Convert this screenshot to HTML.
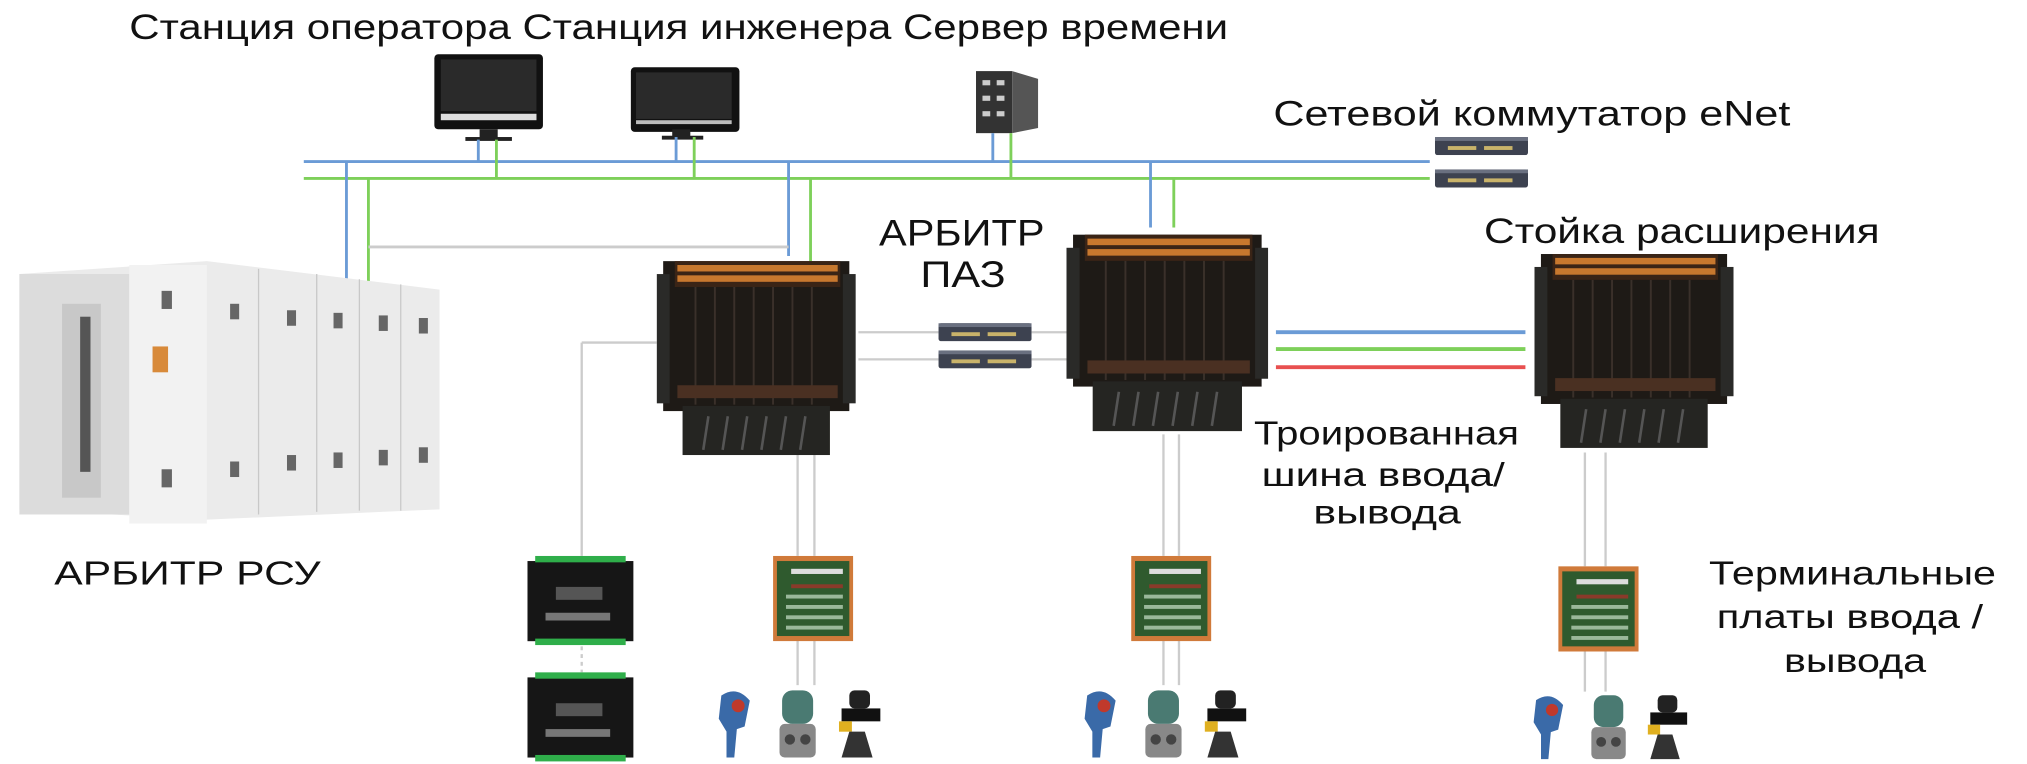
<!DOCTYPE html>
<html><head><meta charset="utf-8"><style>
html,body{margin:0;padding:0;background:#fff;width:2027px;height:764px;overflow:hidden}
svg{display:block}
text{font-family:"Liberation Sans",sans-serif;fill:#111}
</style></head><body>
<svg width="2027" height="764" viewBox="0 0 1568 591" preserveAspectRatio="none" xmlns="http://www.w3.org/2000/svg">
<defs>
<symbol id="rack" viewBox="0 0 154 155">
<rect x="5" y="4" width="144" height="116" fill="#1e1a16"/>
<rect x="0" y="14" width="10" height="100" fill="#2a2a28"/>
<rect x="144" y="14" width="10" height="100" fill="#2a2a28"/>
<rect x="14" y="4" width="128" height="20" fill="#3a2416"/>
<g fill="#c8782e">
<rect x="16" y="7" width="124" height="5"/><rect x="16" y="15" width="124" height="5"/>
</g>
<g stroke="#3a302a" stroke-width="1.5">
<line x1="30" y1="24" x2="30" y2="115"/><line x1="45" y1="24" x2="45" y2="115"/><line x1="60" y1="24" x2="60" y2="115"/><line x1="75" y1="24" x2="75" y2="115"/><line x1="90" y1="24" x2="90" y2="115"/><line x1="105" y1="24" x2="105" y2="115"/><line x1="120" y1="24" x2="120" y2="115"/>
</g>
<rect x="16" y="100" width="124" height="10" fill="#4a3022"/>
<rect x="20" y="116" width="114" height="38" fill="#252522"/>
<g stroke="#555" stroke-width="2"><line x1="40" y1="124" x2="36" y2="150"/><line x1="55" y1="124" x2="51" y2="150"/><line x1="70" y1="124" x2="66" y2="150"/><line x1="85" y1="124" x2="81" y2="150"/><line x1="100" y1="124" x2="96" y2="150"/><line x1="115" y1="124" x2="111" y2="150"/></g>
</symbol>
<symbol id="sw" viewBox="0 0 72 14">
<rect x="0" y="0" width="72" height="14" rx="2" fill="#3d4250"/>
<rect x="0" y="0" width="72" height="3" fill="#6a7080"/>
<rect x="10" y="7" width="22" height="3" fill="#c9b36a"/><rect x="38" y="7" width="22" height="3" fill="#c9b36a"/>
</symbol>
<symbol id="tb" viewBox="0 0 62 66">
<rect x="0" y="0" width="62" height="66" fill="#d07a3a"/>
<rect x="3" y="4" width="56" height="58" fill="#2f5a2e"/>
<rect x="14" y="10" width="40" height="4" fill="#ddd"/><rect x="14" y="22" width="40" height="3" fill="#8a3a2a"/>
<g fill="#9ab89a"><rect x="10" y="30" width="44" height="3"/><rect x="10" y="38" width="44" height="3"/><rect x="10" y="46" width="44" height="3"/><rect x="10" y="54" width="44" height="3"/></g>
</symbol>
<symbol id="mod" viewBox="0 0 82 70">
<rect x="0" y="4" width="82" height="62" fill="#161616"/>
<rect x="6" y="0" width="70" height="5" fill="#2fae4a"/><rect x="6" y="64" width="70" height="5" fill="#2fae4a"/>
<rect x="22" y="24" width="36" height="10" fill="#555"/><rect x="14" y="44" width="50" height="6" fill="#777"/>
</symbol>
<symbol id="inst" viewBox="0 0 140 60">
<path d="M5 8 q12 -8 22 4 l-4 20 l-6 2 l-2 22 l-6 0 l0 -20 l-6 -10z" fill="#3a6aa8"/>
<circle cx="18" cy="16" r="5" fill="#c0392b"/>
<rect x="52" y="4" width="24" height="26" rx="8" fill="#4a7a72"/>
<rect x="50" y="30" width="28" height="26" rx="4" fill="#888"/>
<circle cx="58" cy="42" r="4" fill="#444"/><circle cx="70" cy="42" r="4" fill="#444"/>
<rect x="104" y="4" width="16" height="14" rx="4" fill="#222"/>
<rect x="98" y="18" width="30" height="10" fill="#111"/><rect x="96" y="28" width="10" height="8" fill="#e0b020"/>
<path d="M104 36 l-6 20 h24 l-6 -20z" fill="#333"/>
</symbol>
</defs>

<text x="100" y="30" font-size="27" textLength="850" lengthAdjust="spacingAndGlyphs">Станция оператора Станция инженера Сервер времени</text>
<text x="985" y="97" font-size="27" textLength="400" lengthAdjust="spacingAndGlyphs">Сетевой коммутатор eNet</text>
<text x="680" y="190" font-size="29" textLength="128" lengthAdjust="spacingAndGlyphs">АРБИТР</text>
<text x="712" y="222" font-size="29" textLength="66" lengthAdjust="spacingAndGlyphs">ПАЗ</text>
<text x="1148" y="188" font-size="27" textLength="306" lengthAdjust="spacingAndGlyphs">Стойка расширения</text>
<text x="970" y="344" font-size="26" textLength="205" lengthAdjust="spacingAndGlyphs">Троированная</text>
<text x="976" y="376" font-size="26" textLength="188" lengthAdjust="spacingAndGlyphs">шина ввода/</text>
<text x="1016" y="405" font-size="26" textLength="114" lengthAdjust="spacingAndGlyphs">вывода</text>
<text x="42" y="452" font-size="26" textLength="206" lengthAdjust="spacingAndGlyphs">АРБИТР РСУ</text>
<text x="1322" y="452" font-size="26" textLength="222" lengthAdjust="spacingAndGlyphs">Терминальные</text>
<text x="1328" y="486" font-size="26" textLength="206" lengthAdjust="spacingAndGlyphs">платы ввода /</text>
<text x="1380" y="520" font-size="26" textLength="110" lengthAdjust="spacingAndGlyphs">вывода</text>

<!-- monitors -->
<rect x="336" y="42" width="84" height="58" rx="3" fill="#111"/><rect x="341" y="46" width="74" height="40" fill="#2a2a2a"/><rect x="341" y="88" width="74" height="5" fill="#ddd"/>
<rect x="371" y="100" width="14" height="8" fill="#222"/><rect x="360" y="106" width="36" height="3" fill="#222"/>
<rect x="488" y="52" width="84" height="50" rx="3" fill="#111"/><rect x="492" y="56" width="74" height="36" fill="#2a2a2a"/><rect x="492" y="93" width="74" height="3" fill="#bbb"/>
<rect x="520" y="100" width="14" height="6" fill="#222"/><rect x="512" y="105" width="32" height="3" fill="#222"/>
<!-- server -->
<rect x="755" y="55" width="28" height="48" fill="#333"/><path d="M783 55 l20 6 v38 l-20 4z" fill="#555"/>
<g fill="#ccc"><rect x="760" y="62" width="6" height="4"/><rect x="771" y="62" width="6" height="4"/><rect x="760" y="74" width="6" height="4"/><rect x="771" y="74" width="6" height="4"/><rect x="760" y="86" width="6" height="4"/><rect x="771" y="86" width="6" height="4"/></g>

<!-- bus -->
<g stroke-width="2.2" fill="none">
<line x1="235" y1="125" x2="1106" y2="125" stroke="#6b9bd6"/>
<line x1="235" y1="138" x2="1106" y2="138" stroke="#7ed05a"/>
<line x1="268" y1="125" x2="268" y2="226" stroke="#6b9bd6"/>
<line x1="285" y1="138" x2="285" y2="226" stroke="#7ed05a"/>
<line x1="370" y1="108" x2="370" y2="125" stroke="#6b9bd6"/>
<line x1="384" y1="108" x2="384" y2="138" stroke="#7ed05a"/>
<line x1="523" y1="106" x2="523" y2="125" stroke="#6b9bd6"/>
<line x1="537" y1="106" x2="537" y2="138" stroke="#7ed05a"/>
<line x1="768" y1="103" x2="768" y2="125" stroke="#6b9bd6"/>
<line x1="782" y1="103" x2="782" y2="138" stroke="#7ed05a"/>
<line x1="610" y1="125" x2="610" y2="198" stroke="#6b9bd6"/>
<line x1="627" y1="138" x2="627" y2="202" stroke="#7ed05a"/>
<line x1="890" y1="125" x2="890" y2="176" stroke="#6b9bd6"/>
<line x1="908" y1="138" x2="908" y2="176" stroke="#7ed05a"/>
<line x1="285" y1="191" x2="610" y2="191" stroke="#ccc"/>
<line x1="987" y1="257" x2="1180" y2="257" stroke="#6b9bd6" stroke-width="3"/>
<line x1="987" y1="270" x2="1180" y2="270" stroke="#7ed05a" stroke-width="3"/>
<line x1="987" y1="284" x2="1180" y2="284" stroke="#e85050" stroke-width="3"/>
<g stroke="#ccc" stroke-width="1.8">
<line x1="664" y1="257" x2="726" y2="257"/><line x1="664" y1="278" x2="726" y2="278"/>
<line x1="798" y1="257" x2="826" y2="257"/><line x1="798" y1="278" x2="826" y2="278"/>
<line x1="450" y1="265" x2="508" y2="265"/><line x1="450" y1="265" x2="450" y2="430"/>
<line x1="450" y1="500" x2="450" y2="520" stroke-dasharray="3 3"/>
<line x1="617" y1="350" x2="617" y2="430"/><line x1="630" y1="350" x2="630" y2="430"/>
<line x1="617" y1="495" x2="617" y2="530"/><line x1="630" y1="495" x2="630" y2="530"/>
<line x1="900" y1="336" x2="900" y2="430"/><line x1="912" y1="336" x2="912" y2="430"/>
<line x1="900" y1="495" x2="900" y2="530"/><line x1="912" y1="495" x2="912" y2="530"/>
<line x1="1226" y1="350" x2="1226" y2="438"/><line x1="1242" y1="350" x2="1242" y2="438"/>
<line x1="1226" y1="503" x2="1226" y2="535"/><line x1="1242" y1="503" x2="1242" y2="535"/>
</g>
</g>

<use href="#sw" x="1110" y="106" width="72" height="14"/>
<use href="#sw" x="1110" y="131" width="72" height="14"/>
<use href="#sw" x="726" y="250" width="72" height="14"/>
<use href="#sw" x="726" y="271" width="72" height="14"/>

<!-- cabinet -->
<path d="M15 212 l145 -10 l180 22 v170 l-180 8 l-145 -8z" fill="#ebebeb"/>
<rect x="15" y="212" width="85" height="186" fill="#dcdcdc"/>
<rect x="48" y="235" width="30" height="150" fill="#c8c8c8"/>
<g fill="#555"><rect x="62" y="245" width="8" height="120"/></g>
<rect x="100" y="205" width="60" height="200" fill="#f2f2f2"/>
<rect x="118" y="268" width="12" height="20" fill="#d88a3a"/>
<g fill="#666"><rect x="125" y="225" width="8" height="14"/><rect x="125" y="363" width="8" height="14"/><rect x="178" y="235" width="7" height="12"/><rect x="178" y="357" width="7" height="12"/><rect x="222" y="240" width="7" height="12"/><rect x="222" y="352" width="7" height="12"/><rect x="258" y="242" width="7" height="12"/><rect x="258" y="350" width="7" height="12"/><rect x="293" y="244" width="7" height="12"/><rect x="293" y="348" width="7" height="12"/><rect x="324" y="246" width="7" height="12"/><rect x="324" y="346" width="7" height="12"/></g>
<g stroke="#c8c8c8"><line x1="200" y1="208" x2="200" y2="398"/><line x1="245" y1="212" x2="245" y2="396"/><line x1="278" y1="216" x2="278" y2="395"/><line x1="310" y1="220" x2="310" y2="395"/></g>

<use href="#rack" x="508" y="198" width="154" height="155"/>
<use href="#rack" x="825" y="175" width="156" height="162"/>
<use href="#rack" x="1187" y="190" width="154" height="160"/>

<use href="#mod" x="408" y="430" width="82" height="70"/>
<use href="#mod" x="408" y="520" width="82" height="70"/>
<use href="#tb" x="598" y="430" width="62" height="66"/>
<use href="#tb" x="875" y="430" width="62" height="66"/>
<use href="#tb" x="1205" y="438" width="63" height="66"/>
<use href="#inst" x="553" y="530" width="140" height="60"/>
<use href="#inst" x="836" y="530" width="140" height="60"/>
<use href="#inst" x="1180" y="534" width="140" height="57"/>
</svg>
</body></html>
